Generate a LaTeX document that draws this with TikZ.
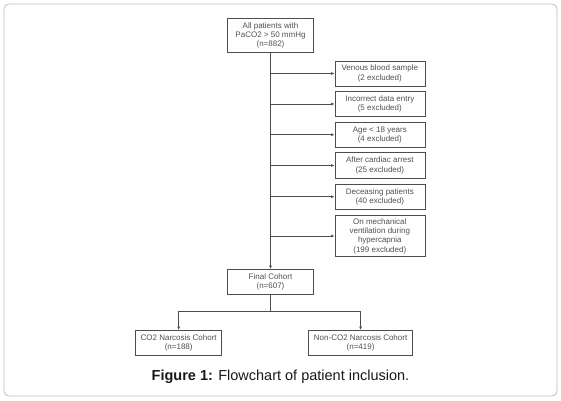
\documentclass[tikz,border=0pt]{standalone}
\usepackage{fontspec}
\setmainfont{Liberation Sans}
\usetikzlibrary{arrows.meta}
\definecolor{frameline}{HTML}{BDBDBD}
\definecolor{boxline}{HTML}{4D4D4D}
\definecolor{boxtext}{HTML}{505050}

\begin{document}
\begin{tikzpicture}[x=1pt,y=-1pt,
    box/.style={draw=boxline,line width=0.6pt,text=boxtext,align=center,inner sep=0pt,
      font=\fontsize{8}{9.3}\selectfont},
    flow/.style={draw=boxline,line width=0.6pt,-{Latex[length=3.5pt,width=3pt]}}]
  \useasboundingbox (0,0) rectangle (561,400);
  \draw[frameline,line width=0.8pt,rounded corners=5pt] (4,4) rectangle (557,396);
  % main column
  \node[box,minimum width=86pt,minimum height=34pt] (all) at (270.5,35.3)
       {All patients with\\PaCO2 > 50 mmHg\\(n=882)};
  \node[box,minimum width=86pt,minimum height=25pt] (final) at (270.5,281.8)
       {Final Cohort\\(n=607)};
  \draw[flow] (all) -- (final);
  % exclusions
  \foreach \n/\y/\h/\t in {1/73.5/25/{Venous blood sample\\(2 excluded)},
                          2/104/25.4/{Incorrect data entry\\(5 excluded)},
                          3/134.7/25.3/{Age < 18 years\\(4 excluded)},
                          4/165.5/25.6/{After cardiac arrest\\(25 excluded)},
                          5/196.7/25.3/{Deceasing patients\\(40 excluded)},
                          6/236/41.4/{On mechanical\\ventilation during\\hypercapnia\\(199 excluded)}}{
     \node[box,minimum width=90pt,minimum height=\h pt] (ex\n) at (379.8,\y) {\t};
     \draw[flow] (all.south |- ex\n.west) -- (ex\n.west);}
  % cohorts
  \node[box,minimum width=86pt,minimum height=25.4pt] (co2) at (178.7,343)
       {CO2 Narcosis Cohort\\(n=188)};
  \node[box,minimum width=104pt,minimum height=25.4pt] (nonco2) at (360.6,343)
       {Non-CO2 Narcosis Cohort\\(n=419)};
  \coordinate (split) at (270.5,311);
  \draw[boxline,line width=0.6pt] (final) -- (split);
  \draw[flow] (split) -| (co2);
  \draw[flow] (split) -| (nonco2);
  \node[font=\fontsize{14.5}{16}\selectfont,text=black!90] (caption) at (280.5,376.5)
       {\textbf{Figure 1:} Flowchart of patient inclusion.};
\end{tikzpicture}
\end{document}
